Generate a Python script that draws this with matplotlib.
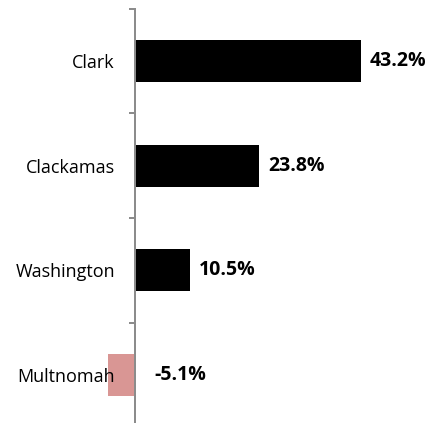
import matplotlib
matplotlib.use("Agg")
import matplotlib.pyplot as plt

counties = ["Clark", "Clackamas", "Washington", "Multnomah"]
growth = [43.2, 23.8, 10.5, -5.1]
value_labels = ["43.2%", "23.8%", "10.5%", "-5.1%"]

plt.rcParams["font.family"] = ["Open Sans", "DejaVu Sans"]

fig = plt.figure(figsize=(4.29, 4.23), dpi=100)
W, H = 429, 423
px_per_unit = 5.23
x0 = 135
pt = 72 / 100  # points per pixel at dpi 100
# axes spans the full width; y-range covers category boundaries 9..427 px
ax = fig.add_axes([0, (H - 427) / H, 1, (427 - 9) / H])
ax.set_xlim(-x0 / px_per_unit, (W - x0) / px_per_unit)
ax.set_ylim(len(counties) - 0.5, -0.5)

ypos = list(range(len(counties)))
colors = ["#000000" if v >= 0 else "#d99694" for v in growth]
ax.barh(ypos, growth, height=0.4, color=colors, zorder=1)

for y, v, lab in zip(ypos, growth, value_labels):
    off = 9 if v >= 0 else 19
    ax.annotate(lab, xy=(max(v, 0), y), xytext=(off, 0), textcoords="offset pixels",
                ha="left", va="center", fontsize=14, fontweight="bold", color="#000000")

for s in ["top", "right", "bottom"]:
    ax.spines[s].set_visible(False)
ax.spines["left"].set_position(("data", 0))
ax.spines["left"].set_color("#8c8c8c")
ax.spines["left"].set_linewidth(2 * pt)
ax.spines["left"].set_zorder(3)
ax.set_xticks([])

ax.set_yticks(ypos)
ax.set_yticklabels(counties, fontsize=13)
ax.tick_params(axis="y", which="major", length=0, pad=20 * pt)
ax.set_yticks([i - 0.5 for i in range(len(counties) + 1)], minor=True)
ax.tick_params(axis="y", which="minor", length=6 * pt, width=2 * pt, color="#8c8c8c")
for t in ax.get_yticklabels():
    t.set_zorder(5)

fig.savefig("out.png", dpi=100)
